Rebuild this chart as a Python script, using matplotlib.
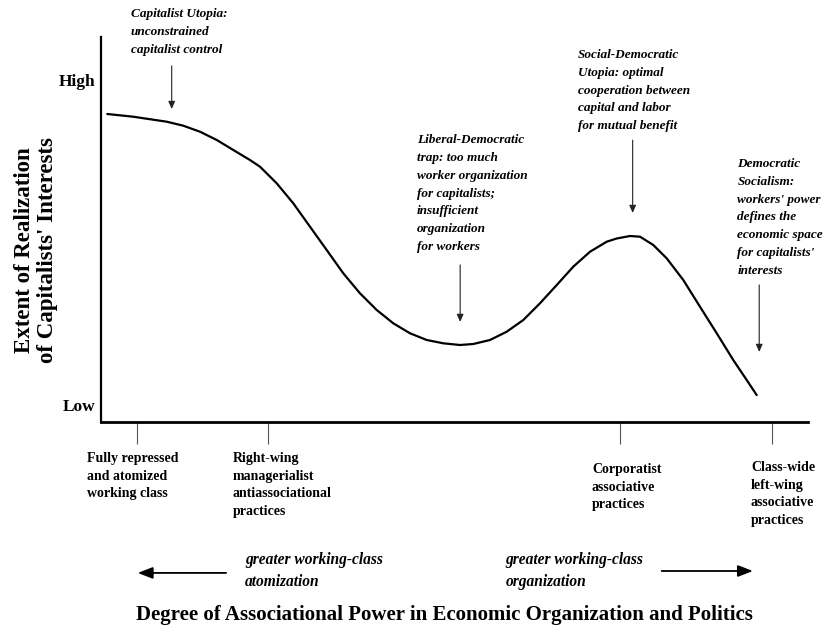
import matplotlib
matplotlib.use("Agg")
import matplotlib.pyplot as plt
from matplotlib.transforms import ScaledTranslation

plt.rcParams['font.family'] = ['Liberation Serif', 'DejaVu Serif']

# ---- data (conceptual 0-100 scales) ----
curve_x = [0.89, 4.53, 9.29, 11.64, 14.0, 16.37, 18.71, 21.07, 22.49, 24.85,
           27.2, 29.56, 31.92, 34.27, 36.63, 39.0, 41.34, 43.71, 46.07, 48.42,
           50.78, 52.66, 55.02, 57.38, 59.73, 62.09, 64.46, 66.8, 69.17, 71.53,
           72.94, 74.82, 76.24, 78.12, 80.01, 82.36, 84.72, 87.09, 89.43, 91.33,
           92.74]
curve_y = [80.0, 79.3, 78.0, 76.96, 75.4, 73.25, 70.65, 68.05, 66.31, 62.0,
           56.8, 50.73, 44.68, 38.62, 33.43, 29.09, 25.64, 23.04, 21.3, 20.44,
           20.0, 20.26, 21.3, 23.45, 26.49, 30.83, 35.58, 40.34, 44.23, 46.83,
           47.66, 48.31, 48.13, 45.97, 42.52, 36.88, 29.95, 23.04, 16.1, 10.9,
           7.0]

xtick_pos = [5.1, 23.6, 73.4, 94.9]
xtick_labels = ["Fully repressed\nand atomized\nworking class",
                "Right-wing\nmanagerialist\nantiassociational\npractices",
                "Corporatist\nassociative\npractices",
                "Class-wide\nleft-wing\nassociative\npractices"]
ytick_pos = [4.4, 88.8]
ytick_labels = ["Low", "High"]

ann_texts = ["Capitalist Utopia:\nunconstrained\ncapitalist control",
             "Liberal-Democratic\ntrap: too much\nworker organization\nfor capitalists;\ninsufficient\norganization\nfor workers",
             "Social-Democratic\nUtopia: optimal\ncooperation between\ncapital and labor\nfor mutual benefit",
             "Democratic\nSocialism:\nworkers' power\ndefines the\neconomic space\nfor capitalists'\ninterests"]
ann_text_x = [4.2, 44.7, 67.5, 90.0]
ann_text_y = [107.5, 74.8, 96.9, 68.6]
ann_arrow_x = [10.0, 50.8, 75.2, 93.1]
ann_arrow_y0 = [92.5, 40.8, 73.2, 35.6]
ann_arrow_y1 = [81.3, 26.0, 54.3, 18.2]

dir_texts = ["greater working-class\natomization", "greater working-class\norganization"]
dir_text_x = [20.4, 57.2]
dir_text_y = [-38.7, -38.7]
dir_arrow_from = [(17.7, -39.2), (79.3, -38.7)]
dir_arrow_to = [(5.2, -39.2), (92.2, -38.7)]

xlabel = "Degree of Associational Power in Economic Organization and Politics"
ylabel = "Extent of Realization\nof Capitalists' Interests"

# ---- figure ----
W, H = 829, 635
fig = plt.figure(figsize=(W / 100, H / 100), dpi=100)
ax = fig.add_axes([101 / W, 1 - 422 / H, (808 - 101) / W, (422 - 37) / H])
ax.set_xlim(0, 100)
ax.set_ylim(0, 100)

ax.plot(curve_x, curve_y, color='black', lw=1.6, solid_capstyle='round',
        solid_joinstyle='round')

for s in ['top', 'right']:
    ax.spines[s].set_visible(False)
ax.spines['left'].set_linewidth(1.6)
ax.spines['bottom'].set_linewidth(2.0)

ax.set_xticks(xtick_pos)
ax.set_xticklabels(xtick_labels, fontsize=10, fontweight='bold',
                   ha='left', multialignment='left', linespacing=1.45)
ax.tick_params(axis='x', direction='out', length=16, width=0.8,
               color='#555555', pad=3)
# shift each label block (pixels) to match the original placement
label_shift = [(-50, -4), (-35, -4), (-28, -15), (-21, -13)]
for lab, (dx, dy) in zip(ax.get_xticklabels(), label_shift):
    lab.set_transform(lab.get_transform() +
                      ScaledTranslation(dx / 100, dy / 100, fig.dpi_scale_trans))

ax.set_yticks(ytick_pos)
ax.set_yticklabels(ytick_labels, fontsize=12.5, fontweight='bold')
ax.tick_params(axis='y', length=0, pad=4)

for t, tx, ty, axx, y0, y1 in zip(ann_texts, ann_text_x, ann_text_y,
                                 ann_arrow_x, ann_arrow_y0, ann_arrow_y1):
    ax.text(tx, ty, t, fontsize=9.5, fontweight='bold', style='italic',
            ha='left', va='top', linespacing=1.65, clip_on=False)
    ax.annotate('', xy=(axx, y1), xytext=(axx, y0), annotation_clip=False,
                arrowprops=dict(arrowstyle='-|>,head_length=0.45,head_width=0.2',
                                color='#222222', lw=0.8, shrinkA=0, shrinkB=0))

for t, tx, ty in zip(dir_texts, dir_text_x, dir_text_y):
    ax.text(tx, ty, t, fontsize=11.2, fontweight='bold', style='italic',
            ha='left', va='center', linespacing=1.5, clip_on=False)
for p0, p1 in zip(dir_arrow_from, dir_arrow_to):
    ax.annotate('', xy=p1, xytext=p0, annotation_clip=False,
                arrowprops=dict(arrowstyle='-|>,head_length=0.9,head_width=0.35',
                                color='black', lw=1.3, shrinkA=0, shrinkB=0))

fig.text(444 / W, 1 - 615 / H, xlabel, fontsize=15, fontweight='bold',
         ha='center', va='center')
fig.text(36 / W, 1 - 250 / H, ylabel, fontsize=16.5, fontweight='bold',
         ha='center', va='center', rotation=90, multialignment='center',
         linespacing=1.1)

fig.savefig('out.png', dpi=100)
